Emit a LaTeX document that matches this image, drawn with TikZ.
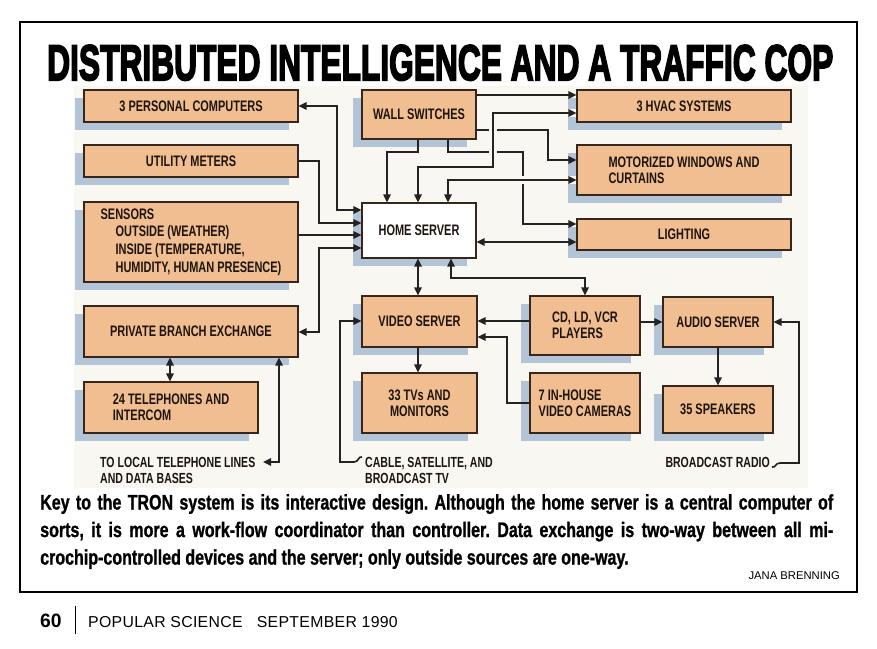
\documentclass[tikz,border=0pt]{standalone}
\usepackage{fontspec}
\usepackage{graphicx}
\setmainfont{Liberation Sans}
\newfontfamily\boxfont[FakeStretch=0.72]{Liberation Sans}
\newfontfamily\titlefont[BoldFeatures={FakeBold=4}]{Liberation Sans}
\newfontfamily\notefont[FakeStretch=0.76, BoldFeatures={FakeBold=1}]{Liberation Sans}
\newfontfamily\mastfont[LetterSpace=2]{Liberation Sans}
\usetikzlibrary{arrows.meta,shadows}
\definecolor{boxfill}{RGB}{241,190,145}
\definecolor{boxline}{RGB}{55,38,28}
\definecolor{shadowblue}{RGB}{178,196,214}
\definecolor{panel}{RGB}{249,247,242}
\definecolor{wirecol}{RGB}{35,35,35}
\definecolor{ink}{RGB}{30,20,15}
\frenchspacing

\begin{document}
\begin{tikzpicture}[x=0.3mm,y=-0.3mm]
\tikzstyle{every node}+=[inner sep=0pt]
\tikzstyle{unit}=[draw=boxline, line width=0.35mm, fill=boxfill, drop shadow={shadow xshift=-2.6mm, shadow yshift=-2.4mm, fill=shadowblue, opacity=1}, font=\boxfont\bfseries\fontsize{13}{14}\selectfont, text=ink, align=center]
\tikzstyle{wire}=[draw=wirecol, line width=0.5mm, >={Triangle[length=2.4mm,width=2.2mm]}]
\tikzstyle{cut}=[preaction={draw=panel, line width=2.6mm, -}]
\tikzstyle{source}=[font=\boxfont\bfseries\fontsize{12.5}{13.6}\selectfont, text=ink, align=left]
\fill [white] (0,0) rectangle (877,649);
\useasboundingbox (0,0) rectangle (877,649);
\fill [panel] (74,86) rectangle (808,488);
\draw [black, line width=0.45mm] (20,22) rectangle (857,592);
\node [anchor=base west] (title) at (47,80) {\resizebox{235.8mm}{10.5mm}{\titlefont\bfseries DISTRIBUTED INTELLIGENCE AND A TRAFFIC COP}};
\node [unit, minimum width=64.2mm, minimum height=9.6mm] (pc) at (191,106) {3 PERSONAL COMPUTERS};
\node [unit, minimum width=64.2mm, minimum height=9.6mm] (meters) at (191,161) {UTILITY METERS};
\node [unit, minimum width=64.2mm, minimum height=24mm, align=left, font=\boxfont\bfseries\fontsize{13}{15}\selectfont] (sensors) at (191,242) {SENSORS\\\hspace*{4.5mm}OUTSIDE (WEATHER)\\\hspace*{4.5mm}INSIDE (TEMPERATURE,\\\hspace*{4.5mm}HUMIDITY, HUMAN PRESENCE)};
\node [unit, minimum width=64.2mm, minimum height=15.3mm] (pbx) at (191,331.5) {PRIVATE BRANCH EXCHANGE};
\node [unit, minimum width=52.2mm, minimum height=15.3mm, align=left] (phones) at (171,407.5) {24 TELEPHONES AND\\INTERCOM};
\node [unit, minimum width=34.2mm, minimum height=14.7mm] (ws) at (419,114.5) {WALL SWITCHES};
\node [unit, fill=white, minimum width=34.2mm, minimum height=16.5mm] (hs) at (419,230.5) {HOME SERVER};
\node [unit, minimum width=34.5mm, minimum height=15.3mm] (video) at (419.5,321.5) {VIDEO SERVER};
\node [unit, minimum width=34.5mm, minimum height=18mm] (tvs) at (419.5,403) {33 TVs AND\\MONITORS};
\node [unit, minimum width=33mm, minimum height=17.7mm, align=left] (cd) at (585,325.5) {CD, LD, VCR\\PLAYERS};
\node [unit, minimum width=33mm, minimum height=18mm, align=left] (cams) at (585,403) {7 IN-HOUSE\\VIDEO CAMERAS};
\node [unit, minimum width=33mm, minimum height=15mm] (audio) at (718,322) {AUDIO SERVER};
\node [unit, minimum width=33mm, minimum height=14.1mm] (speakers) at (718,409.5) {35 SPEAKERS};
\node [unit, minimum width=64.2mm, minimum height=9.6mm] (hvac) at (684,106) {3 HVAC SYSTEMS};
\node [unit, minimum width=64.2mm, minimum height=15mm, align=left] (motor) at (684,170) {MOTORIZED WINDOWS AND\\CURTAINS};
\node [unit, minimum width=64.2mm, minimum height=9.3mm] (lighting) at (684,234.5) {LIGHTING};
\node [source, anchor=north west] (telco) at (100,457) {TO LOCAL TELEPHONE LINES\\AND DATA BASES};
\node [source, anchor=north west] (cable) at (365,457) {CABLE, SATELLITE, AND\\BROADCAST TV};
\node [source, anchor=north east] (radio) at (770,457) {BROADCAST RADIO};
\coordinate (telcoend) at (263,462);
\coordinate (cablein) at (362,457);
\coordinate (radioin) at (772,467);
\draw [wire, <->] (pc.east) -| (337,210) -- (hs.west |- 0,210);
\draw [wire, ->] (meters.east) -| (319,223) -- (hs.west |- 0,223);
\draw [wire, ->] (sensors.east |- 0,235) -- (hs.west |- 0,235);
\draw [wire, <->] (hs.west |- 0,248) -| (319,332) -- (pbx.east |- 0,332);
\draw [wire, <->] (pbx.south -| 170,0) -- (phones.north -| 170,0);
\draw [wire, <->] (pbx.south -| 279,0) |- (telcoend);
\draw [wire, ->] (ws.south -| 418,0) |- (387,152) -- (hs.north -| 387,0);
\draw [wire, ->] (ws.east |- 0,95) -- (hvac.west |- 0,95);
\draw [wire, ->] (ws.east |- 0,130) -| (548,160) -- (motor.west |- 0,160);
\draw [wire, ->] (ws.south -| 448,0) |- (523,152) |- (lighting.west |- 0,224);
\draw [wire, cut, <->] (hs.north -| 418,0) |- (493,167) |- (hvac.west |- 0,113);
\draw [wire, cut, <->] (hs.north -| 448,0) |- (motor.west |- 0,180);
\draw [wire, <->] (hs.east |- 0,242) -- (lighting.west |- 0,242);
\draw [wire, <->] (hs.south -| 418,0) -- (video.north -| 418,0);
\draw [wire, <->] (hs.south -| 451,0) |- (585,278) -- (cd.north -| 585,0);
\draw [wire, ->] (cd.west |- 0,321) -- (video.east |- 0,321);
\draw [wire, ->] (cams.west |- 0,403) -| (507,337) -- (video.east |- 0,337);
\draw [wire, ->] (video.south -| 418,0) -- (tvs.north -| 418,0);
\draw [wire, ->] (cd.east |- 0,322) -- (audio.west |- 0,322);
\draw [wire, ->] (audio.south) -- (speakers.north);
\draw [wire, ->] (cablein) .. controls (358,456) and (359,462) .. (354,462) -| (340,321) -- (video.west |- 0,321);
\draw [wire, ->] (radioin) .. controls (776,468) and (775,463) .. (780,463) -| (799,322) -- (audio.east |- 0,322);
\node [anchor=north west, align=left, text=black, font=\notefont\bfseries\fontsize{18}{23.5}\selectfont] (note) at (40,494) {\makebox[237.9mm][s]{Key to the TRON system is its interactive design. Although the home server is a central computer of}\\\makebox[237.9mm][s]{sorts, it is more a work-flow coordinator than controller. Data exchange is two-way between all mi-}\\crochip-controlled devices and the server; only outside sources are one-way.};
\node [anchor=base east, font=\fontsize{9.6}{11}\selectfont] (credit) at (840,579) {JANA BRENNING};
\node [anchor=base west, font=\bfseries\fontsize{16.5}{18}\selectfont] (folio) at (40,627) {60};
\draw [black, line width=0.3mm] (75,606) -- (75,634);
\node [anchor=base west, font=\mastfont\fontsize{13.5}{15}\selectfont] (mast) at (88,627) {POPULAR SCIENCE\hspace{0.9em}SEPTEMBER 1990};
\end{tikzpicture}
\end{document}
